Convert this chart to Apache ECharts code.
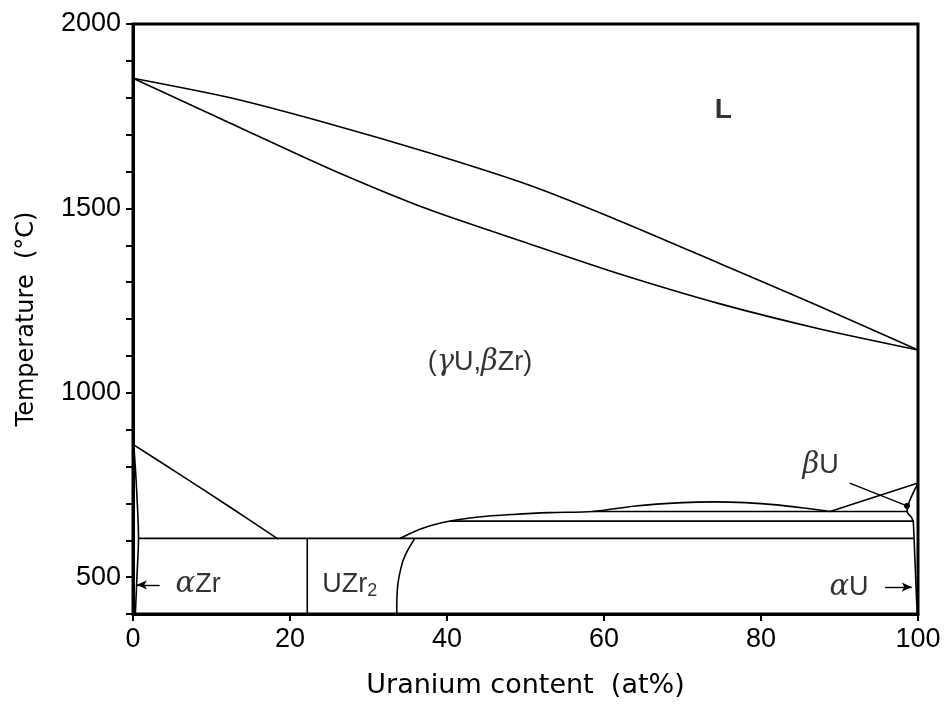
<!DOCTYPE html>
<html>
<head>
<meta charset="utf-8">
<script src="https://cdn.jsdelivr.net/npm/echarts@6/dist/echarts.min.js"></script>
<style>
  html, body { margin: 0; padding: 0; background: #fff; }
  #phaseChart { width: 946px; height: 709px; }
</style>
</head>
<body>
<div id="phaseChart"></div>
<script>
// U-Zr phase diagram, x = at% U, y = temperature in deg C
var yLabelTicks = [500, 1000, 1500, 2000]

var liquidus = [[0, 1853], [12.4, 1800], [25.1, 1729], [37.8, 1650], [50.6, 1562], [62, 1466], [74.8, 1350], [87.5, 1234], [100, 1116]]
var solidus = [[0, 1853], [12.4, 1731], [25.1, 1607], [37.8, 1496], [50.6, 1403], [62, 1322], [74.8, 1241], [87.5, 1173], [100, 1116]]
var betaZrTransus = [[0, 860], [6, 778], [12, 695], [18.5, 603]]
var alphaZrSolvus = [[0.1, 860], [0.4, 760], [0.7, 605], [0.5, 500], [0.3, 400]]
var eutectoid = [[0.7, 605], [99.4, 605]]
var uzr2Line = [[22.2, 400], [22.2, 605]]
var deltaBoundary = [[33.6, 400], [33.7, 473], [34.3, 538], [35.0, 573], [35.9, 605]]
var gammaBoundary = [[34.0, 605], [37, 633], [40.4, 652], [44, 663], [48.4, 670], [53, 675], [58.6, 678], [64, 693], [70, 702], [74, 704], [78, 702], [82, 696], [86, 686], [88.8, 678]]
var line652 = [[40.4, 652], [99.4, 652]]
var line678 = [[58.6, 678], [98.6, 678]]
var gammaBetaU = [[88.8, 678], [100, 755]]
var betaUBoundary = [[100, 755], [98.9, 705], [98.6, 678], [99.1, 664], [99.4, 652]]
var alphaUBoundary = [[99.4, 652], [99.5, 605], [99.7, 500], [99.9, 400]]

var FONT = '"Liberation Sans", Arial, sans-serif'
var TITLE_FONT = '"DejaVu Sans", sans-serif'

function boundary(name, data, smooth) {
  return {
    name: name,
    type: 'line',
    data: data,
    smooth: smooth || false,
    showSymbol: false,
    silent: true,
    lineStyle: { color: '#000', width: 1.6 }
  }
}

var myChart = echarts.init(document.getElementById('phaseChart'))

var italic = { fontStyle: 'italic', fontFamily: '"DejaVu Serif", serif', fontSize: 29, color: '#000' }
var normal = { fontFamily: FONT, fontSize: 27, color: '#000' }
var sub = { fontFamily: FONT, fontSize: 18, color: '#000', padding: [12, 0, 0, 0] }

var option = {
  animation: false,
  backgroundColor: '#fff',
  grid: {
    left: 133, right: 28, top: 24, bottom: 95,
    show: true, borderColor: '#000', borderWidth: 3
  },
  xAxis: {
    type: 'value', min: 0, max: 100, interval: 20,
    name: 'Uranium content  (at%)',
    nameLocation: 'middle', nameGap: 58,
    nameTextStyle: { fontFamily: TITLE_FONT, fontSize: 27, color: '#000' },
    axisLine: { lineStyle: { color: '#000', width: 3 } },
    axisTick: { inside: false, length: 7, lineStyle: { color: '#000', width: 2 } },
    axisLabel: { margin: 12, fontFamily: FONT, fontSize: 27, color: '#000' },
    splitLine: { show: false }
  },
  yAxis: {
    type: 'value', min: 400, max: 2000, interval: 100,
    name: 'Temperature  (\u00b0C)',
    nameLocation: 'middle', nameGap: 94, nameRotate: 90,
    nameTextStyle: { fontFamily: TITLE_FONT, fontSize: 24, color: '#000' },
    axisLine: { show: true, lineStyle: { color: '#000', width: 3 } },
    axisTick: { show: true, inside: false, length: 7, interval: 0, lineStyle: { color: '#000', width: 2 } },
    axisLabel: {
      margin: 12, interval: 0, fontFamily: FONT, fontSize: 27, color: '#000',
      formatter: function (v) { return yLabelTicks.indexOf(v) >= 0 ? String(v) : '' }
    },
    splitLine: { show: false }
  },
  series: [
    boundary('liquidus', liquidus, 0.25),
    boundary('solidus', solidus, 0.25),
    boundary('betaZrTransus', betaZrTransus, 0.3),
    boundary('alphaZrSolvus', alphaZrSolvus, 0.3),
    boundary('eutectoid', eutectoid),
    boundary('uzr2', uzr2Line),
    boundary('delta', deltaBoundary, 0.3),
    boundary('gamma', gammaBoundary, 0.3),
    boundary('line652', line652),
    boundary('line678', line678),
    boundary('gammaBetaU', gammaBetaU),
    boundary('betaU', betaUBoundary, 0.3),
    boundary('alphaU', alphaUBoundary, 0.3),
    {
      name: 'pointers',
      type: 'line',
      data: [],
      silent: true,
      markLine: {
        silent: true,
        animation: false,
        label: { show: false },
        lineStyle: { color: '#000', width: 1.4, type: 'solid' },
        data: [
          [{ coord: [91.3, 755], symbol: 'none' }, { coord: [98.6, 693], symbol: 'circle', symbolSize: 6 }],
          [{ coord: [95.8, 473], symbol: 'none' }, { coord: [99.2, 473], symbol: 'arrow', symbolSize: [7, 10] }],
          [{ coord: [3.4, 479], symbol: 'none' }, { coord: [0.5, 479], symbol: 'arrow', symbolSize: [7, 10] }]
        ]
      }
    },
    {
      name: 'labels',
      type: 'scatter',
      symbolSize: 0,
      silent: true,
      label: {
        show: true, position: 'inside', color: '#000',
        rich: { i: italic, n: normal, s: sub }
      },
      data: [
        { value: [75.2, 1767], label: { formatter: '{n|L}', rich: { n: { fontFamily: FONT, fontSize: 28, fontWeight: 'bold', color: '#000' } } } },
        { value: [44.2, 1083], label: { formatter: '{n|(}{i|\u03b3}{n|U,}{i|\u03b2}{n|Zr)}' } },
        { value: [87.6, 803], label: { formatter: '{i|\u03b2}{n|U}' } },
        { value: [91.2, 472], label: { formatter: '{i|\u03b1}{n|U}' } },
        { value: [8.3, 479], label: { formatter: '{i|\u03b1}{n|Zr}' } },
        { value: [27.6, 479], label: { formatter: '{n|UZr}{s|2}' } }
      ]
    }
  ]
}

myChart.setOption(option)
</script>
</body>
</html>
